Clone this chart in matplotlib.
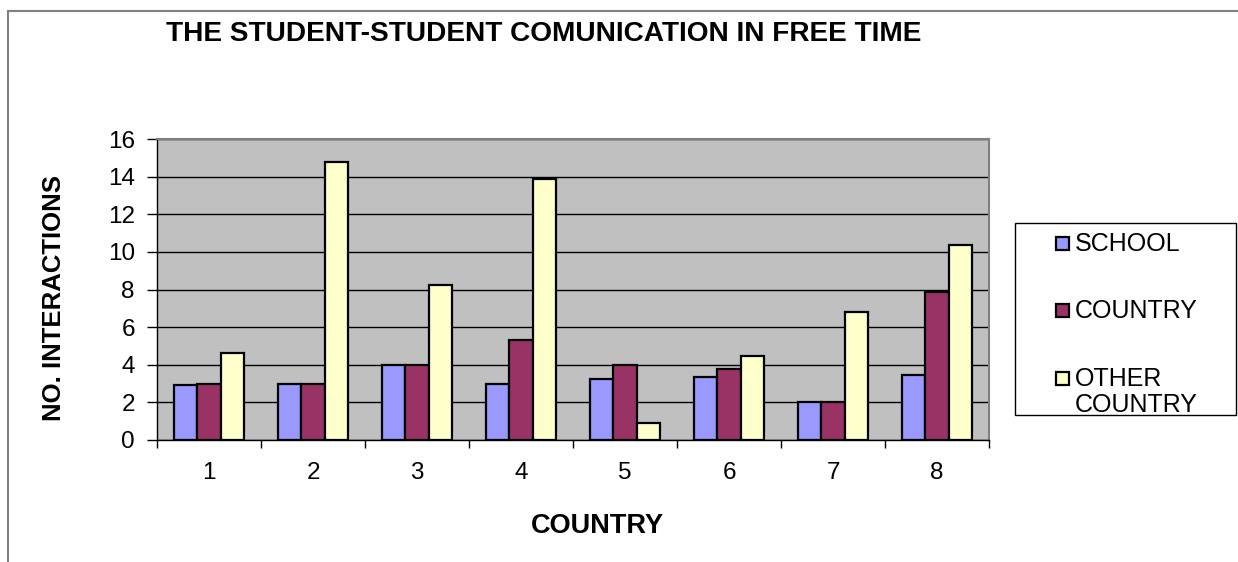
import numpy as np
import matplotlib
matplotlib.use("Agg")
import matplotlib.pyplot as plt
from matplotlib.lines import Line2D
from matplotlib.patches import Rectangle

plt.rcParams['font.family'] = ['Liberation Sans', 'DejaVu Sans']

countries = ['1', '2', '3', '4', '5', '6', '7', '8']
school = [2.95, 3.0, 4.0, 3.0, 3.25, 3.35, 2.0, 3.45]
country = [3.0, 3.0, 4.0, 5.3, 4.0, 3.75, 2.0, 7.85]
other_country = [4.6, 14.8, 8.25, 13.85, 0.9, 4.45, 6.8, 10.35]

series_names = ['SCHOOL', 'COUNTRY', 'OTHER\nCOUNTRY']
series_vals = [school, country, other_country]
series_cols = ['#9999FF', '#993366', '#FFFFCC']

W, H = 1238, 562


def fx(px):
    return px / W


def fy(py):
    return 1 - py / H


fig = plt.figure(figsize=(W / 100, H / 100), dpi=100)
ax = fig.add_axes([fx(157), fy(440), 832 / W, 301 / H])
ax.set_facecolor('#C0C0C0')

x = np.arange(len(countries))
w = 1 / 4.5
for i in range(3):
    ax.bar(x + (i - 1) * w, series_vals[i], w, color=series_cols[i],
           edgecolor='black', linewidth=1.6, zorder=3)

ax.set_xlim(-0.5, len(countries) - 0.5)
ax.set_ylim(0, 16)
ax.set_yticks(range(0, 17, 2))
ax.yaxis.grid(True, color='black', linewidth=1.0, zorder=1)
ax.set_axisbelow(True)

# category labels in the middle, tick marks between groups
ax.set_xticks(x)
ax.set_xticklabels(countries, fontsize=17.5)
ax.set_xticks(np.arange(-0.5, len(countries)), minor=True)
ax.tick_params(axis='x', which='major', length=0, pad=16)
ax.tick_params(axis='x', which='minor', length=6, width=1, color='black')
ax.tick_params(axis='y', labelsize=17.5, length=7, width=1, pad=9)

for s in ['top', 'right']:
    ax.spines[s].set_color('#808080')
    ax.spines[s].set_linewidth(1.5)
for s in ['left', 'bottom']:
    ax.spines[s].set_color('black')
    ax.spines[s].set_linewidth(1.0)

fig.text(fx(597), fy(533), 'COUNTRY', ha='center', va='baseline',
         fontsize=19.5, fontweight='bold')
fig.text(fx(54), fy(298), 'NO. INTERACTIONS', ha='center', va='center',
         rotation=90, rotation_mode='anchor', fontsize=18.5, fontweight='bold')
fig.text(fx(544), fy(40.7), 'THE STUDENT-STUDENT COMUNICATION IN FREE TIME',
         ha='center', va='baseline', fontsize=20.2, fontweight='bold')

# legend box
fig.add_artist(Rectangle((fx(1015), fy(415)), 221 / W, 192 / H,
                         transform=fig.transFigure, facecolor='white',
                         edgecolor='black', linewidth=1.0))
marker_y = [243, 310, 378]
text_top = [232, 299, 367]
for name, col, my, ty in zip(series_names, series_cols, marker_y, text_top):
    fig.add_artist(Rectangle((fx(1056), fy(my + 6.5)), 13 / W, 13 / H,
                             transform=fig.transFigure, facecolor=col,
                             edgecolor='black', linewidth=1.6))
    fig.text(fx(1075), fy(ty), name, ha='left', va='top', fontsize=18,
             linespacing=1.1)

# outer chart border
fig.add_artist(Line2D([fx(8), 1], [fy(11), fy(11)],
                      transform=fig.transFigure, color='#808080', linewidth=1.5))
fig.add_artist(Line2D([fx(8), fx(8)], [0, fy(11)],
                      transform=fig.transFigure, color='#808080', linewidth=1.5))

fig.savefig('out.png', dpi=100)
